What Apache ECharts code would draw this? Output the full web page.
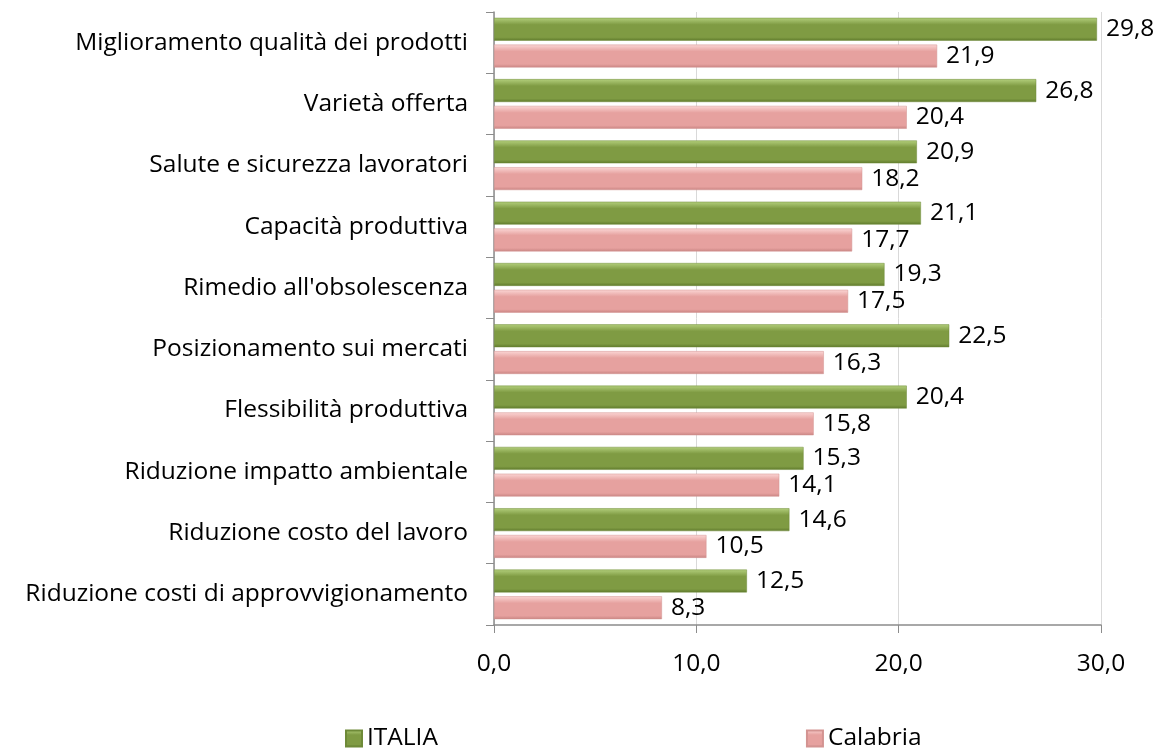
<!DOCTYPE html>
<html>
<head>
<meta charset="utf-8">
<script src="https://cdn.jsdelivr.net/npm/echarts@6/dist/echarts.min.js"></script>
<style>
html, body { margin: 0; padding: 0; background: #fff; }
#chart { width: 1159px; height: 751px; }
</style>
</head>
<body>
<div id="chart"></div>
<script>
var categories = [
	'Miglioramento qualità dei prodotti',
	'Varietà offerta',
	'Salute e sicurezza lavoratori',
	'Capacità produttiva',
	"Rimedio all'obsolescenza",
	'Posizionamento sui mercati',
	'Flessibilità produttiva',
	'Riduzione impatto ambientale',
	'Riduzione costo del lavoro',
	'Riduzione costi di approvvigionamento'
];
var italia = [29.8, 26.8, 20.9, 21.1, 19.3, 22.5, 20.4, 15.3, 14.6, 12.5];
var calabria = [21.9, 20.4, 18.2, 17.7, 17.5, 16.3, 15.8, 14.1, 10.5, 8.3];
var xTicks = [0, 10, 20, 30];

var font = '"Open Sans", Lato, sans-serif';
var fs = 24.5;

function comma(v) {
	return v.toFixed(1).replace('.', ',');
}

function grad(top, mid, bottom) {
	return new echarts.graphic.LinearGradient(0, 0, 0, 1, [
		{ offset: 0, color: top },
		{ offset: 0.3, color: mid },
		{ offset: 0.85, color: mid },
		{ offset: 1, color: bottom }
	]);
}

var chart = echarts.init(document.getElementById('chart'));
chart.setOption({
	animation: false,
	textStyle: { fontFamily: font },
	grid: { left: 494, right: 58, top: 12, bottom: 126 },
	legend: {
		top: 721,
		left: 340,
		itemGap: 368,
		itemWidth: 16,
		itemHeight: 16,
		icon: 'rect',
		textStyle: { fontSize: fs, color: '#000', fontFamily: font },
		data: ['ITALIA', 'Calabria']
	},
	xAxis: {
		type: 'value',
		min: 0,
		max: 30,
		interval: 10,
		axisLine: { show: true, lineStyle: { color: '#8c8c8c', width: 1.5 } },
		axisTick: { show: true, length: 8, lineStyle: { color: '#8c8c8c' } },
		splitLine: { show: true, lineStyle: { color: '#d9d9d9' } },
		axisLabel: {
			margin: 27,
			fontSize: fs,
			color: '#000',
			formatter: function (v) { return xTicks.indexOf(v) >= 0 ? comma(v) : ''; }
		}
	},
	yAxis: {
		type: 'category',
		inverse: true,
		data: categories,
		axisLine: { show: true, lineStyle: { color: '#8c8c8c', width: 1.5 } },
		axisTick: { show: true, length: 8, lineStyle: { color: '#8c8c8c' } },
		axisLabel: { margin: 26, fontSize: fs, color: '#000' }
	},
	series: [
		{
			name: 'ITALIA',
			type: 'bar',
			data: italia,
			barGap: '17%',
			barCategoryGap: '19%',
			itemStyle: {
				color: grad('#b3cf7c', '#7f9b43', '#5f7a2c'),
				borderColor: '#6e8a38',
				borderWidth: 0.5
			},
			label: {
				show: true,
				position: 'right',
				distance: 9,
				fontSize: fs,
				color: '#000',
				formatter: function (p) { return comma(p.value); }
			}
		},
		{
			name: 'Calabria',
			type: 'bar',
			data: calabria,
			itemStyle: {
				color: grad('#fbd6d5', '#e6a19f', '#c98583'),
				borderColor: '#d39391',
				borderWidth: 0.5
			},
			label: {
				show: true,
				position: 'right',
				distance: 9,
				fontSize: fs,
				color: '#000',
				formatter: function (p) { return comma(p.value); }
			}
		}
	]
});
</script>
</body>
</html>
